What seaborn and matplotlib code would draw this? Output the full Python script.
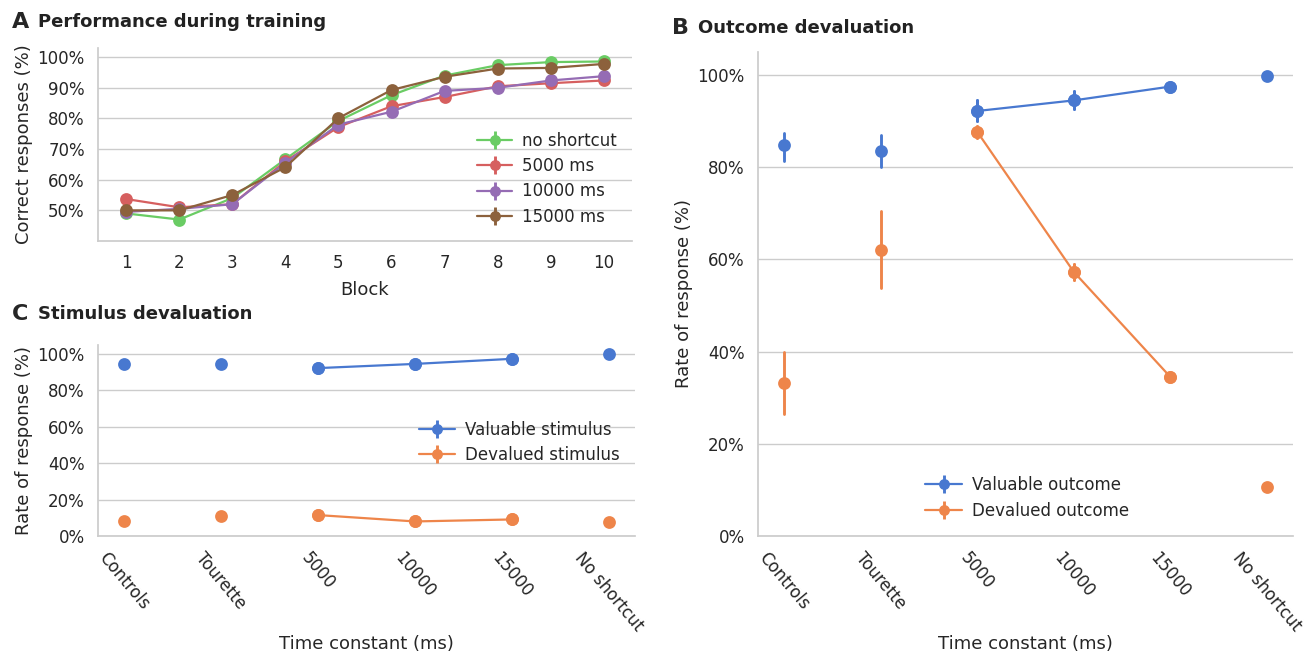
import numpy as np
import pandas as pd
import matplotlib
matplotlib.use("Agg")
import matplotlib.pyplot as plt
from matplotlib.lines import Line2D
from matplotlib.ticker import PercentFormatter
import seaborn as sns

# ---------------- data ----------------
blocks = ["1", "2", "3", "4", "5", "6", "7", "8", "9", "10"]
train_labels = ["no shortcut", "5000 ms", "10000 ms", "15000 ms"]
train_no_shortcut = [0.490, 0.470, 0.540, 0.667, 0.792, 0.876, 0.940, 0.974, 0.984, 0.986]
train_5000 = [0.537, 0.510, 0.520, 0.660, 0.772, 0.840, 0.870, 0.905, 0.915, 0.924]
train_10000 = [0.495, 0.505, 0.520, 0.655, 0.780, 0.822, 0.890, 0.900, 0.924, 0.938]
train_15000 = [0.500, 0.500, 0.550, 0.641, 0.801, 0.893, 0.936, 0.963, 0.965, 0.978]
train_err = [0.010, 0.012, 0.012, 0.012]

groups = ["Controls", "Tourette", "5000", "10000", "15000", "No shortcut"]
connected = ["5000", "10000", "15000"]

outcome_valuable = [0.848, 0.835, 0.922, 0.945, 0.975, 0.998]
outcome_valuable_lo = [0.813, 0.800, 0.900, 0.926, 0.968, 0.995]
outcome_valuable_hi = [0.875, 0.870, 0.945, 0.966, 0.982, 1.000]
outcome_devalued = [0.332, 0.620, 0.877, 0.573, 0.345, 0.106]
outcome_devalued_lo = [0.265, 0.537, 0.864, 0.555, 0.338, 0.100]
outcome_devalued_hi = [0.400, 0.704, 0.890, 0.590, 0.352, 0.112]

stim_valuable = [0.945, 0.946, 0.923, 0.946, 0.974, 0.998]
stim_valuable_lo = [0.937, 0.938, 0.915, 0.938, 0.967, 0.994]
stim_valuable_hi = [0.953, 0.954, 0.931, 0.954, 0.981, 1.000]
stim_devalued = [0.081, 0.108, 0.115, 0.080, 0.091, 0.079]
stim_devalued_lo = [0.073, 0.100, 0.106, 0.073, 0.083, 0.072]
stim_devalued_hi = [0.089, 0.116, 0.124, 0.087, 0.099, 0.086]

# ---------------- style ----------------
sns.set_theme(style="whitegrid")
plt.rcParams["font.family"] = ["DejaVu Sans"]
pal = sns.color_palette("muted")
BLUE, ORANGE, GREEN, RED, PURPLE, BROWN = pal[0], pal[1], pal[2], pal[3], pal[4], pal[5]

FS = 12        # ticks / legends
LFS = 13       # axis labels
LW = 1.6
MS = 8


def minmax(v):
    return (np.min(v), np.max(v))


def long_frame(cats, lo, mid, hi):
    rows = []
    for c, a, b, d in zip(cats, lo, mid, hi):
        for val in (a, b, d):
            rows.append({"x": c, "y": val})
    return pd.DataFrame(rows)


def draw_series(ax, cats, lo, mid, hi, color, order, linestyle="-"):
    df = long_frame(cats, lo, mid, hi)
    sns.pointplot(data=df, x="x", y="y", order=order, estimator="median",
                  errorbar=minmax, color=color, linestyle=linestyle,
                  markersize=MS, linewidth=LW,
                  err_kws={"linewidth": LW * 1.3}, ax=ax)


def proxy(color):
    return (Line2D([], [], color=color, marker="o", markersize=MS * 0.85, linewidth=LW),
            Line2D([], [], color=color, marker="|", markersize=MS * 1.6,
                   markeredgewidth=LW * 1.3, linestyle="none"))


W, H = 1307, 653
fig = plt.figure(figsize=(W / 100, H / 100), dpi=100)


def axes_px(l, t, r, b):
    return fig.add_axes([l / W, 1 - b / H, (r - l) / W, (b - t) / H])


def pct_axis(ax, ticks):
    ax.set_yticks(ticks)
    ax.yaxis.set_major_formatter(PercentFormatter(1.0, decimals=0))
    ax.tick_params(labelsize=FS)


# ---------------- panel A ----------------
axA = axes_px(98, 48, 632, 241)
train_series = [train_no_shortcut, train_5000, train_10000, train_15000]
train_colors = [GREEN, RED, PURPLE, BROWN]
for vals, err, col in zip(train_series, train_err, train_colors):
    lo = [v - err for v in vals]
    hi = [v + err for v in vals]
    draw_series(axA, blocks, lo, vals, hi, col, blocks)
axA.set_ylim(0.40, 1.03)
axA.set_xlim(-0.53, 9.53)
pct_axis(axA, [0.5, 0.6, 0.7, 0.8, 0.9, 1.0])
axA.set_xlabel("Block", fontsize=LFS, labelpad=6)
axA.set_ylabel("Correct responses (%)", fontsize=LFS, labelpad=3)
axA.legend([proxy(c) for c in train_colors], train_labels, frameon=False,
           fontsize=FS, loc="lower right", bbox_to_anchor=(1.0, 0.0),
           handlelength=2.1, handletextpad=0.6, labelspacing=0.45)

idx = [groups.index(c) for c in connected]


def devaluation_panel(ax, v, v_lo, v_hi, d, d_lo, d_hi):
    for mid, lo, hi, col in ((v, v_lo, v_hi, BLUE), (d, d_lo, d_hi, ORANGE)):
        draw_series(ax, groups, lo, mid, hi, col, groups, "none")
        draw_series(ax, connected, [lo[i] for i in idx], [mid[i] for i in idx],
                    [hi[i] for i in idx], col, groups)
    ax.set_ylim(0, 1.05)
    ax.set_xlim(-0.27, 5.27)
    pct_axis(ax, [0, 0.2, 0.4, 0.6, 0.8, 1.0])
    ax.set_xlabel("Time constant (ms)", fontsize=LFS, labelpad=0)
    ax.set_ylabel("Rate of response (%)", fontsize=LFS, labelpad=3)
    plt.setp(ax.get_xticklabels(), rotation=-50, ha="center")


# ---------------- panel C ----------------
axC = axes_px(98, 345, 635, 536)
devaluation_panel(axC, stim_valuable, stim_valuable_lo, stim_valuable_hi,
                  stim_devalued, stim_devalued_lo, stim_devalued_hi)
axC.legend([proxy(BLUE), proxy(ORANGE)], ["Valuable stimulus", "Devalued stimulus"],
           frameon=False, fontsize=FS, loc="center right", bbox_to_anchor=(1.0, 0.49),
           handlelength=2.2, handletextpad=0.6, labelspacing=0.4)

# ---------------- panel B ----------------
axB = axes_px(758, 52, 1293, 536)
devaluation_panel(axB, outcome_valuable, outcome_valuable_lo, outcome_valuable_hi,
                  outcome_devalued, outcome_devalued_lo, outcome_devalued_hi)
axB.legend([proxy(BLUE), proxy(ORANGE)], ["Valuable outcome", "Devalued outcome"],
           frameon=False, fontsize=FS, loc="lower left", bbox_to_anchor=(0.285, 0.003),
           handlelength=2.2, handletextpad=0.6, labelspacing=0.45)

for ax in (axA, axB, axC):
    sns.despine(ax=ax)

# ---------------- panel letters and titles ----------------
def label(x, y, letter, title, lfs=16, tfs=13):
    fig.text(x / W, 1 - y / H, letter, fontsize=lfs, fontweight="bold", va="center", ha="left")
    fig.text((x + 26) / W, 1 - y / H, title, fontsize=tfs, fontweight="bold", va="center",
             ha="left", color="#222222")

label(12, 22, "A", "Performance during training")
label(672, 28, "B", "Outcome devaluation")
label(12, 314, "C", "Stimulus devaluation")

fig.savefig("out.png", dpi=100)
